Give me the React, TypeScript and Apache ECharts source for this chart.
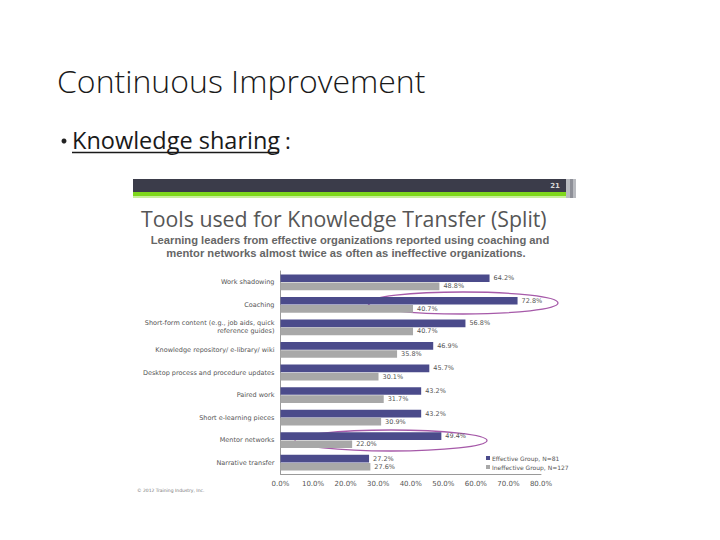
import React, { useEffect, useRef } from "react";
import * as echarts from "echarts";

const categories = [
  "Work shadowing",
  "Coaching",
  "Short-form content (e.g., job aids, quick\nreference guides)",
  "Knowledge repository/ e-library/ wiki",
  "Desktop process and procedure updates",
  "Paired work",
  "Short e-learning pieces",
  "Mentor networks",
  "Narrative transfer",
];
const effective = [64.2, 72.8, 56.8, 46.9, 45.7, 43.2, 43.2, 49.4, 27.2];
const ineffective = [48.8, 40.7, 40.7, 35.8, 30.1, 31.7, 30.9, 22.0, 27.6];
const seriesNames = ["Effective Group, N=81", "Ineffective Group, N=127"];
const xTicks = { min: 0, max: 80, interval: 10 };

const pageTitle = "Continuous Improvement";
const bulletText = "Knowledge sharing";
const chartTitle = "Tools used for Knowledge Transfer (Split)";
const chartSubtitle = [
  "Learning leaders from effective organizations reported using coaching and",
  "mentor networks almost twice as often as ineffective organizations.",
];
const slideNumber = "21";
const copyright = "© 2012 Training Industry, Inc.";

export default function App() {
  const ref = useRef<HTMLDivElement>(null);
  useEffect(() => {
    if (!ref.current) return;
    const chart = echarts.init(ref.current, null, { renderer: "svg" });
    const labelStyle = {
      show: true,
      position: "right",
      distance: 4,
      fontSize: 6.5,
      color: "#555",
      fontFamily: "DejaVu Sans",
      formatter: (p: any) => p.value.toFixed(1) + "%",
    };
    chart.setOption({
      animation: false,
      backgroundColor: "#ffffff",
      grid: { left: 280.5, right: 179, top: 271, bottom: 66, containLabel: false },
      legend: {
        orient: "vertical",
        left: 481,
        top: 450,
        itemWidth: 4,
        itemHeight: 4,
        itemGap: 3,
        icon: "rect",
        textStyle: { fontSize: 6, color: "#555", fontFamily: "DejaVu Sans", padding: [0, 0, 0, -3] },
        data: seriesNames,
      },
      xAxis: {
        type: "value",
        min: xTicks.min,
        max: xTicks.max,
        interval: xTicks.interval,
        axisLine: { show: true, lineStyle: { color: "#9a9a9a", width: 1 } },
        axisTick: { show: false },
        splitLine: { show: false },
        axisLabel: {
          fontSize: 7,
          color: "#555",
          fontFamily: "DejaVu Sans",
          margin: 6,
          formatter: (v: number) => v.toFixed(1) + "%",
        },
      },
      yAxis: {
        type: "category",
        inverse: true,
        data: categories,
        axisLine: { show: true, lineStyle: { color: "#9a9a9a", width: 1 } },
        axisTick: { show: false },
        axisLabel: {
          fontSize: 6.5,
          color: "#555",
          fontFamily: "DejaVu Sans",
          margin: 6,
          lineHeight: 8,
        },
      },
      series: [
        {
          name: seriesNames[0],
          type: "bar",
          data: effective,
          barGap: "6%",
          barCategoryGap: "30%",
          itemStyle: { color: "#4b4b8b" },
          label: labelStyle,
        },
        {
          name: seriesNames[1],
          type: "bar",
          data: ineffective,
          itemStyle: { color: "#a8a8a8" },
          label: labelStyle,
        },
      ],
      graphic: [
        {
          type: "text",
          x: 57,
          y: 80,
          style: {
            text: pageTitle,
            fontSize: 32,
            fontFamily: "Open Sans",
            fontWeight: 300,
            fill: "#1a1a1a",
            align: "left",
            verticalAlign: "middle",
          },
        },
        {
          type: "circle",
          shape: { cx: 64, cy: 141, r: 2.5 },
          style: { fill: "#222" },
        },
        {
          type: "text",
          x: 72,
          y: 140,
          style: {
            text: bulletText,
            fontSize: 23.5,
            fontFamily: "Open Sans",
            fill: "#1a1a1a",
            align: "left",
            verticalAlign: "middle",
          },
        },
        {
          type: "line",
          shape: { x1: 72, y1: 152.5, x2: 279, y2: 152.5 },
          style: { stroke: "#1a1a1a", lineWidth: 1.5 },
        },
        {
          type: "text",
          x: 285,
          y: 140,
          style: {
            text: ":",
            fontSize: 22,
            fontFamily: "Open Sans",
            fill: "#1a1a1a",
            align: "left",
            verticalAlign: "middle",
          },
        },
        {
          type: "rect",
          shape: { x: 133, y: 179, width: 433, height: 13 },
          style: { fill: "#3b3c4a" },
        },
        {
          type: "rect",
          shape: { x: 566, y: 179, width: 10, height: 19 },
          style: { fill: "#b9bbc0" },
        },
        {
          type: "rect",
          shape: { x: 570, y: 179, width: 3, height: 19 },
          style: { fill: "#8e9098" },
        },
        {
          type: "rect",
          shape: { x: 133, y: 192, width: 433, height: 4 },
          style: { fill: "#7fd81b" },
        },
        {
          type: "rect",
          shape: { x: 133, y: 196, width: 433, height: 2 },
          style: { fill: "#c9ef9c" },
        },
        {
          type: "text",
          x: 555,
          y: 186,
          style: {
            text: slideNumber,
            fontSize: 7,
            fontWeight: "bold",
            fontFamily: "DejaVu Sans",
            fill: "#d8d8d8",
            align: "center",
            verticalAlign: "middle",
          },
        },
        {
          type: "text",
          x: 141,
          y: 218,
          style: {
            text: chartTitle,
            fontSize: 21.3,
            fontFamily: "Open Sans",
            fill: "#565656",
            align: "left",
            verticalAlign: "middle",
          },
        },
        {
          type: "text",
          x: 350,
          y: 240,
          style: {
            text: chartSubtitle[0],
            fontSize: 11.2,
            fontWeight: "bold",
            fontFamily: "Liberation Sans",
            fill: "#666",
            align: "center",
            verticalAlign: "middle",
          },
        },
        {
          type: "text",
          x: 346,
          y: 253,
          style: {
            text: chartSubtitle[1],
            fontSize: 11.2,
            fontWeight: "bold",
            fontFamily: "Liberation Sans",
            fill: "#666",
            align: "center",
            verticalAlign: "middle",
          },
        },
        {
          type: "ellipse",
          shape: { cx: 463, cy: 303, rx: 95, ry: 11 },
          style: { fill: "none", stroke: "#a65aa9", lineWidth: 1.3 },
        },
        {
          type: "ellipse",
          shape: { cx: 391, cy: 440.5, rx: 96, ry: 10.5 },
          style: { fill: "none", stroke: "#a65aa9", lineWidth: 1.3 },
        },
        {
          type: "text",
          x: 137,
          y: 490,
          style: {
            text: copyright,
            fontSize: 4.5,
            fontFamily: "DejaVu Sans",
            fill: "#777",
            align: "left",
            verticalAlign: "middle",
          },
        },
      ],
    });
    return () => chart.dispose();
  }, []);
  return (
    <div
      ref={ref}
      style={{ position: "fixed", left: 0, top: 0, width: 720, height: 540, background: "#fff" }}
    />
  );
}
